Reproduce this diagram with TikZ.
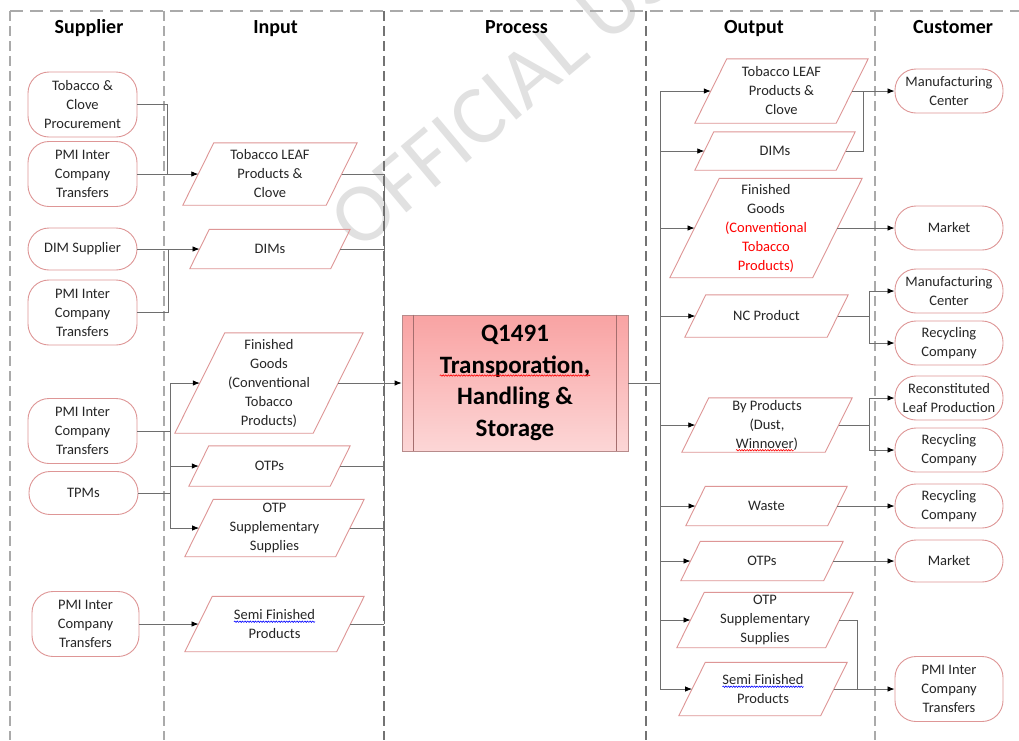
\documentclass[tikz,border=0pt]{standalone}
\usepackage{fontspec}
\setmainfont{Carlito}
\usetikzlibrary{arrows.meta,calc,decorations.pathmorphing}

\definecolor{shapeline}{RGB}{222,150,150}
\definecolor{connline}{RGB}{110,110,110}
\definecolor{lanelight}{RGB}{170,170,170}
\definecolor{lanedark}{RGB}{115,115,115}
\definecolor{procTop}{RGB}{249,163,163}
\definecolor{procBot}{RGB}{252,214,214}
\definecolor{procLine}{RGB}{165,110,110}
\definecolor{wmark}{RGB}{225,225,225}

\tikzset{
  lbl/.style={font=\fontsize{14.5}{19}\selectfont, align=center, inner sep=0pt, text=black!85},
  term/.style={lbl, draw=shapeline, line width=0.9pt, rounded corners=21pt,
               minimum width=109pt, minimum height=#1pt},
  link/.style={draw=connline, line width=0.8pt},
  arr/.style={link, -{Latex[length=7pt,width=5.5pt,black]}},
  lanel/.style={draw=lanelight, line width=1.3pt, dash pattern=on 10pt off 5pt},
  laned/.style={draw=lanedark, line width=1.3pt, dash pattern=on 10pt off 5pt},
  head/.style={font=\fontsize{20}{24}\selectfont\bfseries, inner sep=0pt, anchor=base},
}

% spell-check style wavy underline under a word
\newsavebox\squigbox
\newcommand\squig[2]{\sbox\squigbox{#2}%
  \tikz[baseline=0pt,x=1pt,y=1pt]{\path[use as bounding box] (0,-\dp\squigbox) rectangle (\wd\squigbox,\ht\squigbox);
    \node[inner sep=0pt,outer sep=0pt,minimum width=0pt,minimum height=0pt,anchor=base west,
          draw=none,fill=none] (sq) at (0,0) {\usebox\squigbox};
    \draw[#1,line width=0.6pt,decorate,decoration={snake,amplitude=0.7pt,segment length=2.6pt}]
      (0,-2.2) -- (\wd\squigbox,-2.2);}}

% data shape: name, cx, cy, width, height, text (slant = height/2)
\newcommand\ioshape[6]{%
  \node[lbl, minimum width=#4pt, minimum height=#5pt] (#1) at (#2,#3) {#6};
  \draw[shapeline, line width=0.9pt] ([xshift={#5pt/2}]#1.north west) -- (#1.north east)
    -- ([xshift={-#5pt/2}]#1.south east) -- (#1.south west) -- cycle;
  \coordinate (#1-in) at ([xshift={#5pt/4}]#1.west);
  \coordinate (#1-out) at ([xshift={-#5pt/4}]#1.east);
}

\begin{document}
\begin{tikzpicture}[x=1pt,y=-1pt]
\useasboundingbox[fill=white] (0,0) rectangle (1019,740);

% watermark
\begin{scope}
  \clip (0,0) rectangle (1019,740);
  \node[font=\fontsize{84}{84}\selectfont, text=wmark, rotate=40, anchor=west, inner sep=0pt]
    (wmk) at (342,232) {OFFICIAL USE};
\end{scope}

% swim lanes
\draw[lanel, dash pattern=on 13pt off 7pt] (10,11) -- (1019,11);
\draw[lanel] (10,11) -- (10,740);
\draw[lanel] (164,11) -- (164,740);
\draw[laned] (384,11) -- (384,740);
\draw[laned] (646,11) -- (646,740);
\draw[lanel] (875,11) -- (875,740);

\node[head] (hSup) at (89,33.5) {Supplier};
\node[head] (hIn) at (275.5,33.5) {Input};
\node[head] (hPro) at (516.5,33.5) {Process};
\node[head] (hOut) at (754,33.5) {Output};
\node[head] (hCus) at (953,33.5) {Customer};

% suppliers
\node[term=65] (s1) at (82.5,104.5) {Tobacco \&\\Clove\\Procurement};
\node[term=65] (s2) at (82.5,174) {PMI Inter\\Company\\Transfers};
\node[term=42] (s3) at (82.5,249) {DIM Supplier};
\node[term=65] (s4) at (82.5,312.5) {PMI Inter\\Company\\Transfers};
\node[term=65] (s5) at (82.5,431) {PMI Inter\\Company\\Transfers};
\node[term=43] (s6) at (83.5,493) {TPMs};
\node[term=65, minimum width=107pt] (s7) at (85.5,624) {PMI Inter\\Company\\Transfers};

% inputs
\ioshape{iLeaf}{270}{174}{174}{62}{Tobacco LEAF\\Products \&\\Clove}
\ioshape{iDIM}{270}{249}{160}{39}{DIMs}
\ioshape{iFG}{269}{383}{188}{100}{Finished\\Goods\\(Conventional\\Tobacco\\Products)}
\ioshape{iOTP}{269.5}{466}{161}{40}{OTPs}
\ioshape{iSupp}{274.5}{528}{179}{57}{OTP\\Supplementary\\Supplies}
\ioshape{iSemi}{274.5}{624}{179}{55}{\squig{blue}{Semi Finished}\\Products}

% process
\node[font=\fontsize{25}{31.5}\selectfont\bfseries, align=center, inner sep=0pt,
      minimum width=226pt, minimum height=136pt, draw=procLine!80, line width=0.8pt,
      top color=procTop, bottom color=procBot] (proc) at (515,383)
      {Q1491\\\squig{red}{Transporation,}\\Handling \&\\Storage};
\draw[procLine, line width=0.8pt] ([xshift=12pt]proc.north west) -- ([xshift=12pt]proc.south west);
\draw[procLine, line width=0.8pt] ([xshift=-12pt]proc.north east) -- ([xshift=-12pt]proc.south east);

% outputs
\ioshape{oLeaf}{781.5}{91}{173}{64}{Tobacco LEAF\\Products \&\\Clove}
\ioshape{oDIM}{775}{151}{160}{38}{DIMs}
\ioshape{oFG}{766}{228}{192}{99}{Finished\\Goods\\\textcolor{red}{(Conventional}\\\textcolor{red}{Tobacco}\\\textcolor{red}{Products)}}
\ioshape{oNC}{766.5}{316}{163}{42}{NC Product}
\ioshape{oBy}{767}{425}{170}{54}{By Products\\(Dust,\\\squig{red}{Winnover})}
\ioshape{oWaste}{766.5}{506}{161}{39}{Waste}
\ioshape{oOTP}{762}{561}{162}{39}{OTPs}
\ioshape{oSupp}{765}{620}{176}{55}{OTP\\Supplementary\\Supplies}
\ioshape{oSemi}{763}{689}{168}{53}{\squig{blue}{Semi Finished}\\Products}

% customers
\node[term=44, minimum width=108pt] (c1) at (949,91) {Manufacturing\\Center};
\node[term=44, minimum width=108pt] (c2) at (949,228) {Market};
\node[term=44, minimum width=108pt] (c3) at (949,291) {Manufacturing\\Center};
\node[term=44, minimum width=108pt] (c4) at (949,343) {Recycling\\Company};
\node[term=44, minimum width=108pt] (c5) at (949,398) {Reconstituted\\Leaf Production};
\node[term=44, minimum width=108pt] (c6) at (949,450) {Recycling\\Company};
\node[term=44, minimum width=108pt] (c7) at (949,506) {Recycling\\Company};
\node[term=42, minimum width=108pt] (c8) at (949,561) {Market};
\node[term=65, minimum width=108pt] (c9) at (949,689) {PMI Inter\\Company\\Transfers};

% supplier -> input
\coordinate (jA) at (167,174);
\draw[link] (s1.east) -| (jA);
\draw[arr] (s2.east) -- (iLeaf-in);
\coordinate (jB) at (168,249);
\draw[link] (s4.east) -| (jB);
\draw[arr] (s3.east) -- (iDIM-in);
\coordinate (jC1) at (170,383);
\coordinate (jC2) at (170,528);
\draw[link] (jC1) -- (jC2);
\draw[link] (s5.east) -- (s5.east -| jC1);
\draw[link] (s6.east) -- (s6.east -| jC1);
\draw[arr] (jC1) -- (iFG-in);
\draw[arr] (iOTP-in -| jC1) -- (iOTP-in);
\draw[arr] (jC2) -- (iSupp-in);
\draw[arr] (s7.east) -- (iSemi-in);

% input -> process
\coordinate (bL1) at (384,174);
\coordinate (bL2) at (384,624);
\draw[link] (bL1) -- (bL2);
\foreach \n in {iLeaf,iDIM,iFG,iOTP,iSupp,iSemi}
  \draw[link] (\n-out) -- (\n-out -| bL1);
\draw[arr] (proc.west -| bL1) -- (proc.west);

% process -> output
\coordinate (bR1) at (660,91);
\coordinate (bR2) at (660,689);
\draw[link] (proc.east) -- (proc.east -| bR1);
\draw[link] (bR1) -- (bR2);
\foreach \n in {oLeaf,oDIM,oFG,oNC,oBy,oWaste,oOTP,oSupp,oSemi}
  \draw[arr] (\n-in -| bR1) -- (\n-in);

% output -> customer
\coordinate (jD) at (863,91);
\draw[link] (oDIM-out) -| (jD);
\draw[arr] (oLeaf-out) -- (c1.west);
\draw[arr] (oFG-out) -- (c2.west);
\coordinate (jE1) at (869,291);
\coordinate (jE2) at (869,343);
\draw[link] (oNC-out) -- (oNC-out -| jE1);
\draw[link] (jE1) -- (jE2);
\draw[arr] (jE1) -- (c3.west);
\draw[arr] (jE2) -- (c4.west);
\coordinate (jG1) at (869,398);
\coordinate (jG2) at (869,450);
\draw[link] (oBy-out) -- (oBy-out -| jG1);
\draw[link] (jG1) -- (jG2);
\draw[arr] (jG1) -- (c5.west);
\draw[arr] (jG2) -- (c6.west);
\draw[arr] (oWaste-out) -- (c7.west);
\draw[arr] (oOTP-out) -- (c8.west);
\coordinate (jF) at (857,689);
\draw[link] (oSupp-out) -| (jF);
\draw[arr] (oSemi-out) -- (c9.west);
\end{tikzpicture}
\end{document}
